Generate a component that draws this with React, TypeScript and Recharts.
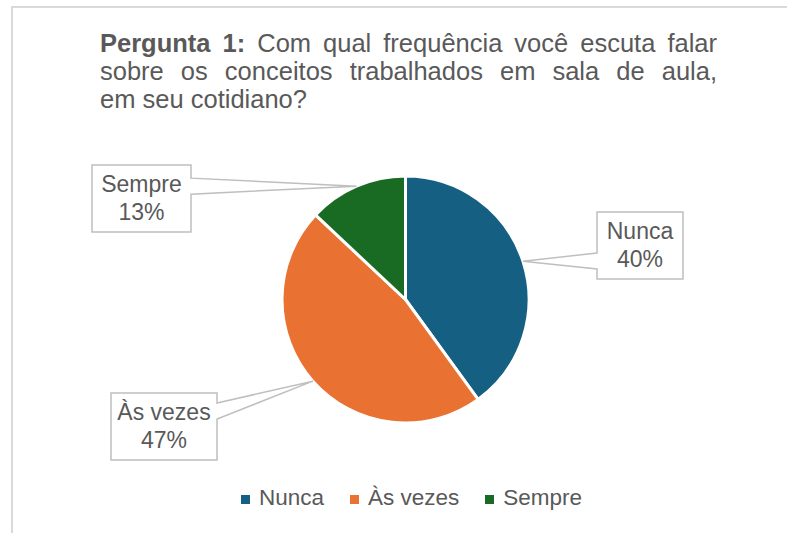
import { PieChart, Pie, Cell, Legend } from "recharts";

const categories = ["Nunca", "Às vezes", "Sempre"];
const values = [40, 47, 13];
const COLORS = ["#156082", "#E97132", "#196B24"];

// caixas dos rótulos: deslocamento do centro da caixa em relação ao centro da pizza
const LABEL_BOXES = [
  { dx: 234.5, dy: -54, w: 86 },
  { dx: -241.5, dy: 127, w: 106 },
  { dx: -264, dy: -101, w: 99 },
];

const data = categories.map((name, i) => ({ name, value: values[i] }));

const TEXT = "#595959";
const FONT = "'Liberation Sans', Arial, sans-serif";
const RAD = Math.PI / 180;

const renderLabel = (props: any) => {
  const { cx, cy, midAngle, outerRadius, index, percent } = props;
  const tx = cx + outerRadius * Math.cos(-midAngle * RAD);
  const ty = cy + outerRadius * Math.sin(-midAngle * RAD);
  const box = LABEL_BOXES[index];
  const h = 67;
  const x0 = cx + box.dx - box.w / 2;
  const x1 = x0 + box.w;
  const y0 = cy + box.dy - h / 2;
  const y1 = y0 + h;
  const mid = Math.min(Math.max(ty, y0 + 18), y1 - 18);
  const b0 = mid - 8;
  const b1 = mid + 8;
  const d =
    tx > x1
      ? `M${x0},${y0}H${x1}V${b0}L${tx},${ty}L${x1},${b1}V${y1}H${x0}Z`
      : `M${x0},${y0}H${x1}V${y1}H${x0}V${b1}L${tx},${ty}L${x0},${b0}Z`;
  const xc = (x0 + x1) / 2;
  return (
    <g key={`lbl-${index}`}>
      <path d={d} fill="#fff" stroke="#bfbfbf" strokeWidth={1.5} />
      <text x={xc} y={y0 + 27} textAnchor="middle" fill={TEXT} fontSize={23} fontFamily={FONT}>
        {categories[index]}
      </text>
      <text x={xc} y={y0 + 55} textAnchor="middle" fill={TEXT} fontSize={23} fontFamily={FONT}>
        {`${Math.round(percent * 100)}%`}
      </text>
    </g>
  );
};

const LegendContent = () => (
  <div
    style={{
      display: "flex",
      justifyContent: "flex-start",
      gap: 26,
      fontFamily: FONT,
      fontSize: 22.5,
      lineHeight: "26px",
      color: TEXT,
      paddingLeft: 241,
    }}
  >
    {categories.map((name, i) => (
      <div key={name} style={{ display: "flex", alignItems: "center" }}>
        <span
          style={{
            display: "inline-block",
            width: 9,
            height: 9,
            background: COLORS[i],
            marginRight: 9,
            marginTop: 3,
          }}
        />
        <span>{name}</span>
      </div>
    ))}
  </div>
);

const titleLine = (justify: boolean): any => ({
  whiteSpace: "nowrap",
  textAlign: justify ? "justify" : "left",
  textAlignLast: justify ? "justify" : "left",
});

export default function App() {
  return (
    <div
      style={{
        position: "absolute",
        left: 0,
        top: 0,
        width: 787,
        height: 533,
        overflow: "hidden",
        background: "#fff",
      }}
    >
      <div
        style={{
          position: "absolute",
          left: 11,
          top: 6,
          width: 800,
          height: 560,
          border: "2px solid #d9d9d9",
        }}
      />
      <div
        style={{
          position: "absolute",
          left: 100,
          top: 29,
          width: 617,
          fontFamily: FONT,
          fontSize: 25.5,
          lineHeight: "28px",
          color: TEXT,
        }}
      >
        <div style={titleLine(true)}>
          <b>Pergunta 1:</b> Com qual frequência você escuta falar
        </div>
        <div style={titleLine(true)}>sobre os conceitos trabalhados em sala de aula,</div>
        <div style={titleLine(false)}>em seu cotidiano?</div>
      </div>
      <div style={{ position: "absolute", left: 0, top: 0 }}>
        <PieChart width={787} height={533} margin={{ top: 0, right: 0, bottom: 0, left: 0 }}>
          <Pie
            data={data}
            dataKey="value"
            nameKey="name"
            cx={405.5}
            cy={299.5}
            outerRadius={123.5}
            startAngle={90}
            endAngle={-270}
            stroke="#fff"
            strokeWidth={3}
            label={renderLabel}
            labelLine={false}
            isAnimationActive={false}
          >
            {data.map((d, i) => (
              <Cell key={d.name} fill={COLORS[i]} />
            ))}
          </Pie>
          <Legend
            content={<LegendContent />}
            wrapperStyle={{ top: 485, left: 0, width: 787 }}
          />
        </PieChart>
      </div>
    </div>
  );
}
